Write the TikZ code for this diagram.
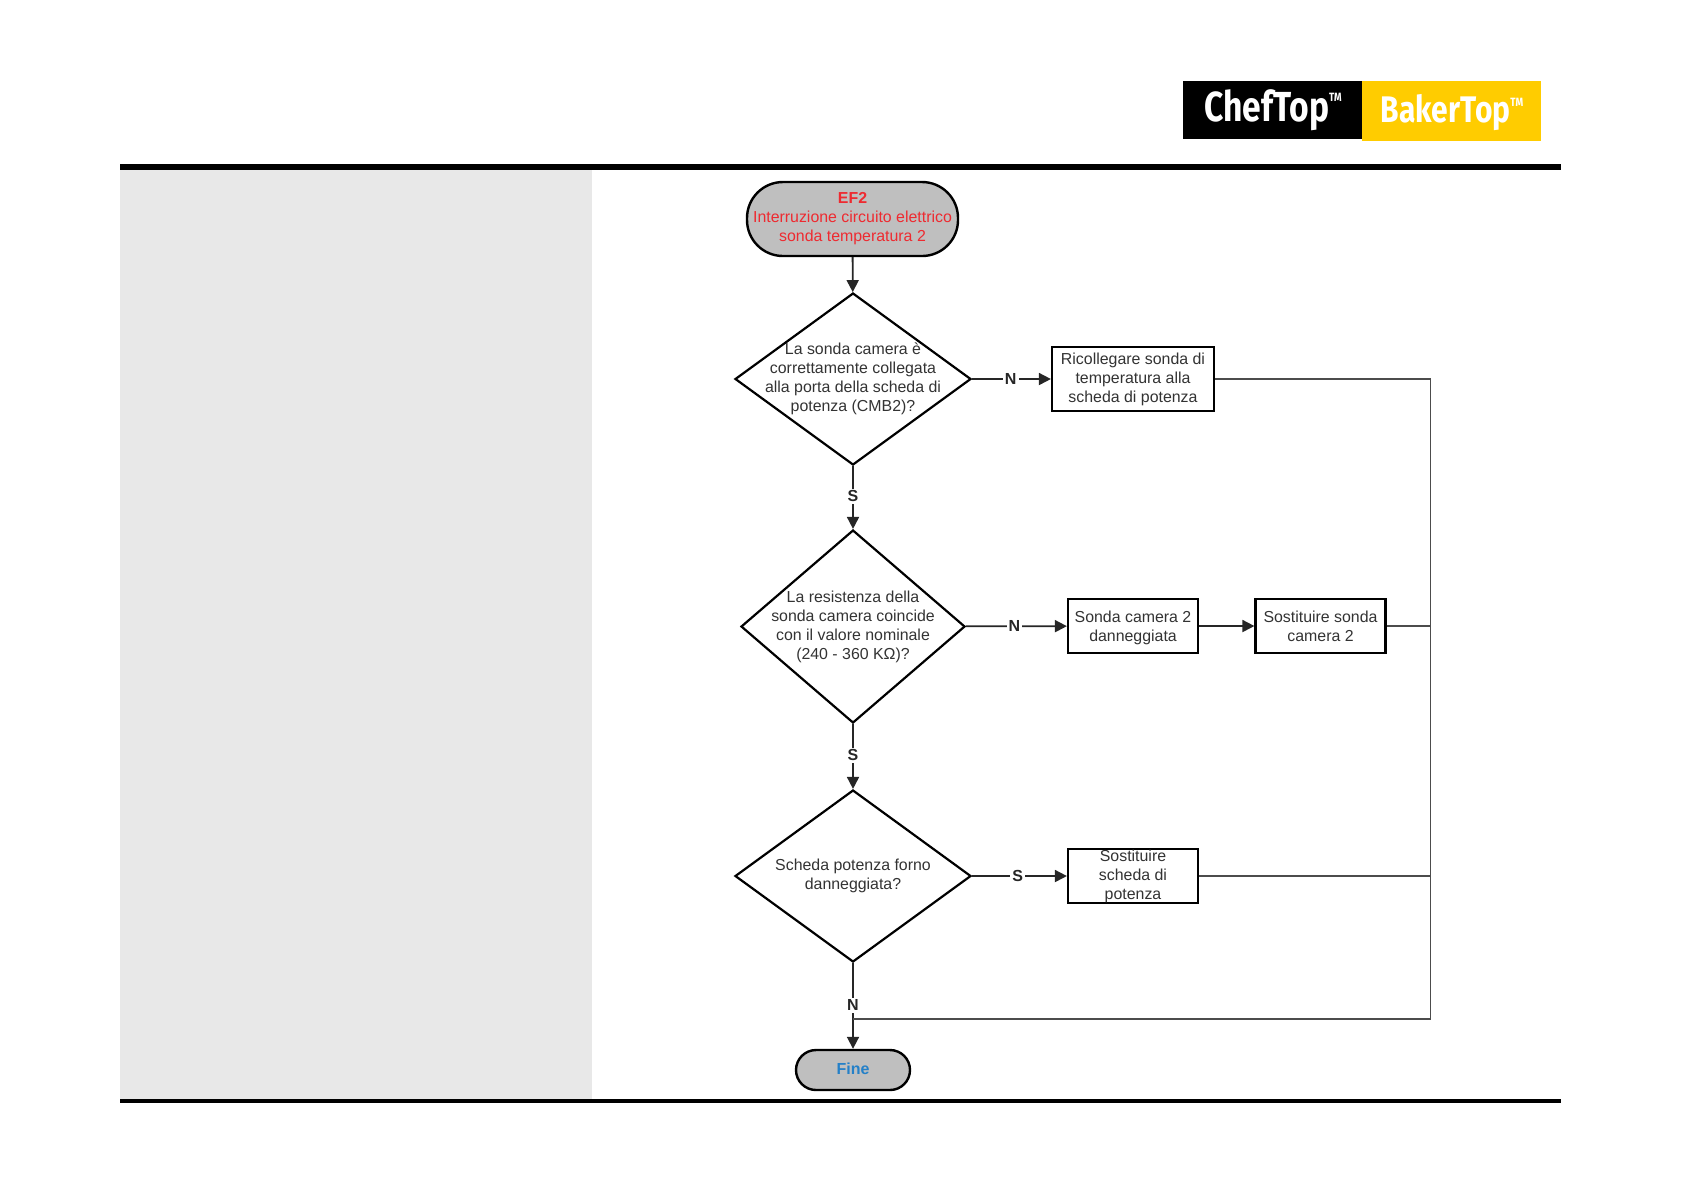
\documentclass[tikz,border=0pt]{standalone}
\usepackage{fontspec}
\usepackage{graphicx}
\setmainfont{Liberation Sans}
\newfontfamily\logofont{Fira Sans}
\usetikzlibrary{arrows.meta,shapes.geometric}
\definecolor{panelgray}{HTML}{E8E8E8}
\definecolor{termgray}{HTML}{BFBFBF}
\definecolor{logoyellow}{HTML}{FFCC00}
\definecolor{alarmred}{HTML}{EE2A30}
\definecolor{fineblue}{HTML}{2480C8}
\newdimen\unitsize
\setlength{\unitsize}{0.5pt}

\begin{document}
\begin{tikzpicture}[x=\unitsize,y=-\unitsize,font=\fontsize{7.95}{9.5}\selectfont]
\tikzset{term/.style={draw=black,line width=1.2pt,fill=termgray,rounded corners=18pt,inner sep=0pt,align=center}}%
\tikzset{quest/.style={draw=black,line width=1.1pt,diamond,inner sep=0pt,minimum width=236\unitsize,minimum height=172\unitsize,aspect=1.37}}%
\tikzset{todo/.style={draw=black,line width=1.1pt,fill=white,inner sep=0pt,align=center,text=black!80}}%
\tikzset{body/.style={align=center,text=black!80}}%
\tikzset{edge/.style={line width=0.9pt,draw=black!85}}%
\tikzset{flow/.style={edge,-{Triangle[length=6pt,width=6pt]}}}%
\tikzset{rail/.style={line width=0.8pt,draw=black!70}}%
\tikzset{tag/.style={fill=white,inner sep=1pt,font=\fontsize{8}{9.5}\selectfont\bfseries,text=black!85}}%
\tikzset{logo/.style={text=white,inner sep=0pt,font=\logofont\bfseries}}%
\useasboundingbox (0,0) rectangle (1684,1191);
% page frame
\fill[panelgray] (120,170) rectangle (592,1099);
\fill[black] (120,164) rectangle (1561,170);
\fill[black] (120,1099) rectangle (1561,1103);
% logo
\fill[black] (1183,81) rectangle (1362,139);
\fill[logoyellow] (1362,81) rectangle (1541,141);
\node[logo] (cheflogo) at (1273,110) {\scalebox{0.8}[1]{\fontsize{21}{21}\selectfont ChefTop\raisebox{10pt}{\fontsize{6}{6}\selectfont TM}}};
\node[logo] (bakerlogo) at (1452,113) {\scalebox{0.81}[1]{\fontsize{18.5}{18.5}\selectfont BakerTop\raisebox{8pt}{\fontsize{6}{6}\selectfont TM}}};
% flow
\node[term,minimum width=211\unitsize,minimum height=74\unitsize,text=alarmred] (start) at (852.5,219) {\textbf{EF2}\\Interruzione circuito elettrico\\sonda temperatura 2};
\node[quest,label={[body]center:La sonda camera è\\correttamente collegata\\alla porta della scheda di\\potenza (CMB2)?}] (ask1) at (853,379) {};
\node[quest,minimum width=224\unitsize,minimum height=193\unitsize,aspect=1.16,label={[body]center:La resistenza della\\sonda camera coincide\\con il valore nominale\\(240 - 360 KΩ)?}] (ask2) at (853,626.5) {};
\node[quest,label={[body]center:Scheda potenza forno\\danneggiata?}] (ask3) at (853,876) {};
\node[todo,minimum width=162\unitsize,minimum height=64\unitsize] (plug) at (1133,379) {Ricollegare sonda di\\temperatura alla\\scheda di potenza};
\node[todo,minimum width=130\unitsize,minimum height=54\unitsize] (probe) at (1133,626) {Sonda camera 2\\\raisebox{0pt}[1ex][0pt]{danneggiata}};
\node[todo,minimum width=130\unitsize,minimum height=54\unitsize] (swap) at (1320.5,626) {Sostituire sonda\\camera 2};
\node[todo,minimum width=130\unitsize,minimum height=54\unitsize,label={[body]center:Sostituire\\scheda di\\potenza}] (board) at (1133,876) {};
\node[term,rounded corners=10pt,minimum width=114\unitsize,minimum height=40\unitsize,text=fineblue,font=\fontsize{8}{9.5}\selectfont\bfseries] (fine) at (853,1070) {\raisebox{1.5pt}{Fine}};
\coordinate (railtop) at (1430.5,379);
\coordinate (join) at (853,1019);
\draw[flow] (start) -- (ask1);
\draw[flow] (ask1) -- node[tag,pos=0.48] (tagA) {S} (ask2);
\draw[flow] (ask2) -- node[tag,pos=0.48] (tagB) {S} (ask3);
\draw[flow] (ask1) -- node[tag,pos=0.49] (tagC) {N} (plug);
\draw[flow] (ask2) -- node[tag,pos=0.48] (tagD) {N} (probe);
\draw[flow] (ask3) -- node[tag,pos=0.48] (tagE) {S} (board);
\draw[flow] (probe) -- (swap);
\draw[edge] (ask3) -- node[tag,pos=0.75] (tagF) {N} (join);
\draw[flow] (join) -- (fine);
\draw[rail] (plug) -- (railtop);
\draw[rail] (swap) -- (swap -| railtop);
\draw[rail] (board) -- (board -| railtop);
\draw[rail] (railtop) |- (join);
\end{tikzpicture}
\end{document}
